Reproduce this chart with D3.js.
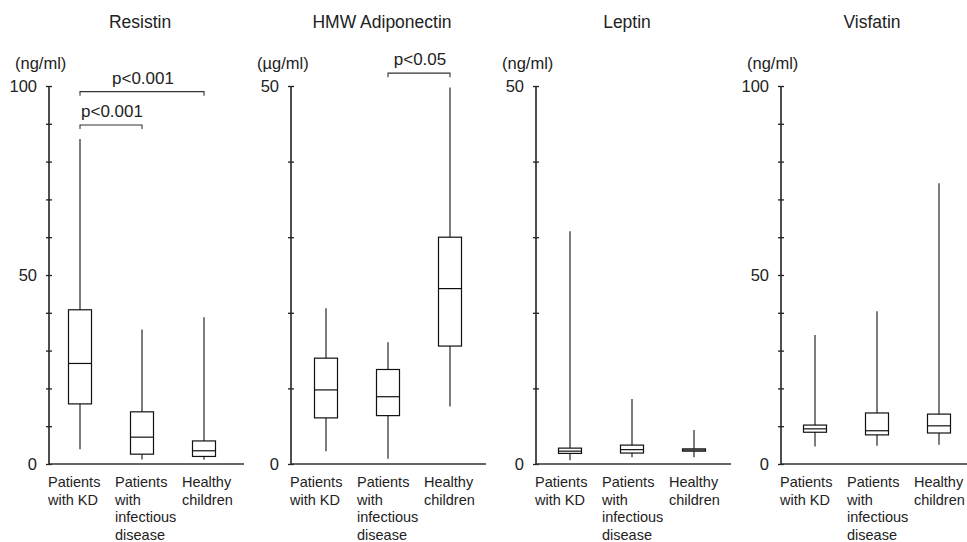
<!DOCTYPE html>
<html>
<head>
<meta charset="utf-8">
<title>Adipokines box plots</title>
<script src="https://cdn.jsdelivr.net/npm/d3@7/dist/d3.min.js"></script>
<style>
  body { margin: 0; background: #fff; }
  svg text { font-family: "Liberation Sans", Arial, sans-serif; fill: #222; }
</style>
</head>
<body>
<div id="chart"></div>
<script>
// groups on the x axis
const categories = ["KD", "Infectious", "Healthy"];
const categoryLines = [
  ["Patients", "with KD"],
  ["Patients", "with", "infectious", "disease"],
  ["Healthy", "children"]
];

// panel titles, units and axis maxima
const titles = ["Resistin", "HMW Adiponectin", "Leptin", "Visfatin"];
const units = ["(ng/ml)", "(\u00b5g/ml)", "(ng/ml)", "(ng/ml)"];
const yMax = [100, 50, 50, 100];
const labelTicks = [[0, 50, 100], [0, 50], [0, 50], [0, 50, 100]];

// box stats per group: [min, q1, median, q3, max]
const resistin = [[3.9, 15.9, 26.6, 40.8, 86.0], [1.2, 2.6, 7.1, 13.8, 35.6], [1.1, 2.0, 3.5, 6.1, 38.8]];
const adiponectin = [[1.7, 6.1, 9.8, 14.0, 20.6], [0.7, 6.4, 8.9, 12.5, 16.1], [7.6, 15.6, 23.2, 30.0, 49.8]];
const leptin = [[0.5, 1.4, 1.7, 2.1, 30.8], [0.9, 1.45, 1.9, 2.5, 8.6], [0.9, 1.7, 1.85, 2.0, 4.5]];
const visfatin = [[4.6, 8.4, 9.3, 10.3, 34.1], [4.8, 7.7, 8.8, 13.5, 40.4], [5.1, 8.2, 10.1, 13.2, 74.3]];
const stats = [resistin, adiponectin, leptin, visfatin];

// significance brackets: panel, from group, to group, level (data units), label
const brackets = [
  [0, "KD", "Healthy", 98.5, "p<0.001"],
  [0, "KD", "Infectious", 89.7, "p<0.001"],
  [1, "Infectious", "Healthy", 51.7, "p<0.05"]
];

const width = 967, height = 542;
const yTop = 86, yBottom = 464;
const axisX = [49, 291, 536, 781];
const boxX0 = [80, 326, 570, 815];
const axisLen = 195;
const boxW = 23;

const svg = d3.select("#chart").append("svg")
  .attr("width", width)
  .attr("height", height);

titles.forEach(function (title, i) {
  const g = svg.append("g");
  const x0 = axisX[i];

  const y = d3.scaleLinear().domain([0, yMax[i]]).range([yBottom, yTop]);
  const x = d3.scalePoint().domain(categories).range([boxX0[i], boxX0[i] + 124]);
  const xLab = d3.scaleBand().domain(categories).range([x0 - 1, x0 + 200]);

  // title + unit
  g.append("text")
    .attr("x", x0 + 91).attr("y", 28)
    .attr("text-anchor", "middle")
    .style("font-size", "17.5px")
    .text(title);
  g.append("text")
    .attr("x", x0 - 34).attr("y", 69)
    .style("font-size", "16.5px")
    .text(units[i]);

  // y axis, ticks every 10 crossing the line
  const yAxis = d3.axisLeft(y)
    .tickValues(d3.range(0, yMax[i] + 1, 10))
    .tickSize(3)
    .tickFormat(d => labelTicks[i].includes(d) ? d : "");
  const ya = g.append("g")
    .attr("transform", "translate(" + x0 + ",0)")
    .call(yAxis);
  ya.select(".domain").attr("d", "M0," + yTop + "V" + yBottom)
    .attr("stroke", "#222").attr("stroke-width", 1.6);
  ya.selectAll(".tick line").attr("x1", 3).attr("x2", -3)
    .attr("stroke", "#222").attr("stroke-width", 1.3);
  ya.selectAll(".tick text")
    .attr("x", -12)
    .style("font-size", "16.5px")
    .style("font-family", "'Liberation Sans', Arial, sans-serif")
    .attr("fill", "#222");

  // x axis line
  g.append("line")
    .attr("x1", x0).attr("x2", x0 + axisLen)
    .attr("y1", yBottom).attr("y2", yBottom)
    .attr("stroke", "#333").attr("stroke-width", 1.6);

  // category labels
  categories.forEach(function (c, j) {
    const t = g.append("text")
      .attr("x", xLab(c)).attr("y", 487)
      .style("font-size", "14.5px");
    categoryLines[j].forEach(function (line, k) {
      t.append("tspan")
        .attr("x", xLab(c))
        .attr("dy", k === 0 ? 0 : 17.5)
        .text(line);
    });
  });

  // box plots
  const boxes = g.selectAll(".box")
    .data(stats[i])
    .enter().append("g")
    .attr("class", "box");

  boxes.append("line")
    .attr("x1", (d, j) => x(categories[j])).attr("x2", (d, j) => x(categories[j]))
    .attr("y1", d => y(d[0])).attr("y2", d => y(d[4]))
    .attr("stroke", "#111").attr("stroke-width", 1.1);

  boxes.append("rect")
    .attr("x", (d, j) => x(categories[j]) - boxW / 2)
    .attr("width", boxW)
    .attr("y", d => y(d[3]))
    .attr("height", d => y(d[1]) - y(d[3]))
    .attr("fill", "#fff")
    .attr("stroke", "#111").attr("stroke-width", 1.2);

  boxes.append("line")
    .attr("x1", (d, j) => x(categories[j]) - boxW / 2)
    .attr("x2", (d, j) => x(categories[j]) + boxW / 2)
    .attr("y1", d => y(d[2])).attr("y2", d => y(d[2]))
    .attr("stroke", "#111").attr("stroke-width", 1.2);

  // brackets
  brackets.filter(b => b[0] === i).forEach(function (b) {
    const xa = x(b[1]), xb = x(b[2]), yb = y(b[3]);
    g.append("path")
      .attr("d", "M" + xa + "," + (yb + 4) + "V" + yb + "H" + xb + "V" + (yb + 4))
      .attr("fill", "none")
      .attr("stroke", "#333").attr("stroke-width", 1.1);
    g.append("text")
      .attr("x", (xa + xb) / 2 + 1).attr("y", yb - 8)
      .attr("text-anchor", "middle")
      .style("font-size", "17px")
      .text(b[4]);
  });
});
</script>
</body>
</html>
